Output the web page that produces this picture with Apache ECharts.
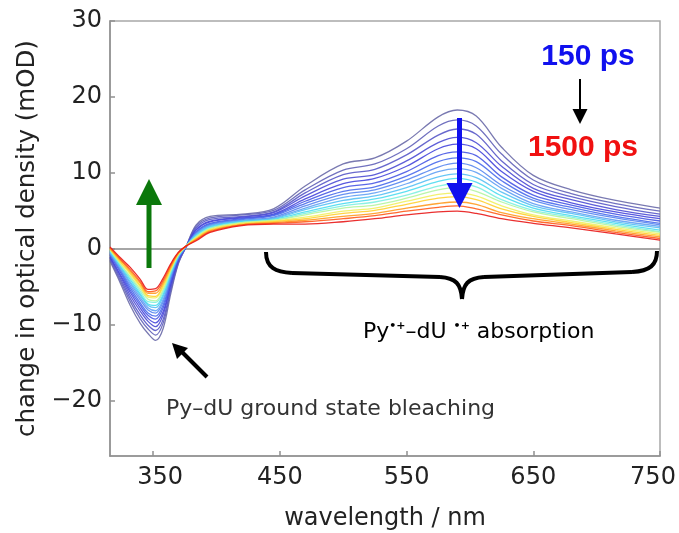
<!DOCTYPE html>
<html>
<head>
<meta charset="utf-8">
<script src="https://cdn.jsdelivr.net/npm/echarts@6/dist/echarts.min.js"></script>
<style>
html,body{margin:0;padding:0;background:#fff;}
#chart{width:679px;height:533px;}
</style>
</head>
<body>
<div id="chart"></div>
<script>
// wavelengths (nm)
const wavelengths = [316, 324, 332, 340, 346, 352, 358, 364, 370, 376, 384, 395, 420, 445, 470, 500, 525, 550, 575, 590, 605, 625, 650, 680, 715, 750];
// transient spectra, from 150 ps (first) to 1500 ps (last), mOD
const spectra = [
  [-1.6, -4.4, -7.4, -9.8, -11.1, -12.0, -10.4, -5.8, -1.9, 0.3, 3.2, 4.3, 4.6, 5.3, 8.3, 11.2, 12.0, 14.2, 17.4, 18.3, 17.5, 13.4, 9.7, 7.8, 6.4, 5.4],
  [-1.4, -4.1, -6.9, -9.2, -10.5, -11.3, -9.7, -5.4, -1.8, 0.3, 3.0, 4.1, 4.5, 5.1, 7.8, 10.4, 11.2, 13.2, 16.2, 17.0, 16.2, 12.5, 9.1, 7.3, 6.0, 5.0],
  [-1.2, -3.8, -6.5, -8.7, -10.0, -10.7, -9.2, -5.1, -1.6, 0.3, 2.8, 3.9, 4.3, 4.9, 7.4, 9.8, 10.5, 12.4, 15.0, 15.8, 15.1, 11.6, 8.5, 6.9, 5.6, 4.6],
  [-1.1, -3.5, -6.1, -8.2, -9.5, -10.2, -8.6, -4.7, -1.5, 0.3, 2.6, 3.7, 4.2, 4.8, 7.0, 9.2, 9.8, 11.6, 14.0, 14.7, 14.0, 10.9, 8.0, 6.5, 5.2, 4.3],
  [-1.0, -3.3, -5.7, -7.8, -9.1, -9.7, -8.2, -4.5, -1.4, 0.3, 2.5, 3.6, 4.1, 4.6, 6.6, 8.6, 9.3, 10.9, 13.2, 13.8, 13.2, 10.2, 7.6, 6.1, 4.9, 4.0],
  [-0.8, -3.0, -5.4, -7.4, -8.7, -9.2, -7.7, -4.2, -1.3, 0.3, 2.3, 3.4, 4.0, 4.5, 6.3, 8.1, 8.7, 10.2, 12.3, 12.8, 12.3, 9.5, 7.1, 5.8, 4.6, 3.7],
  [-0.7, -2.8, -5.1, -7.1, -8.4, -8.8, -7.3, -4.0, -1.2, 0.3, 2.2, 3.3, 3.9, 4.4, 6.0, 7.6, 8.2, 9.6, 11.5, 12.0, 11.5, 9.0, 6.7, 5.5, 4.3, 3.4],
  [-0.6, -2.7, -4.8, -6.7, -8.0, -8.4, -6.9, -3.7, -1.1, 0.3, 2.1, 3.2, 3.8, 4.2, 5.7, 7.2, 7.8, 9.1, 10.8, 11.3, 10.7, 8.4, 6.4, 5.2, 4.1, 3.2],
  [-0.5, -2.5, -4.5, -6.4, -7.7, -8.1, -6.6, -3.5, -1.0, 0.3, 2.0, 3.1, 3.7, 4.1, 5.4, 6.8, 7.4, 8.6, 10.2, 10.6, 10.1, 8.0, 6.0, 4.9, 3.8, 3.0],
  [-0.4, -2.3, -4.3, -6.1, -7.4, -7.7, -6.2, -3.3, -1.0, 0.4, 1.9, 3.0, 3.7, 4.0, 5.2, 6.4, 7.0, 8.1, 9.5, 9.9, 9.4, 7.5, 5.7, 4.7, 3.6, 2.8],
  [-0.3, -2.2, -4.0, -5.9, -7.2, -7.4, -5.9, -3.2, -0.9, 0.4, 1.8, 2.9, 3.6, 3.9, 4.9, 6.0, 6.6, 7.6, 8.9, 9.3, 8.8, 7.0, 5.4, 4.4, 3.4, 2.5],
  [-0.2, -2.0, -3.8, -5.6, -6.9, -7.0, -5.6, -3.0, -0.8, 0.4, 1.7, 2.8, 3.5, 3.8, 4.7, 5.7, 6.2, 7.1, 8.3, 8.6, 8.2, 6.5, 5.1, 4.2, 3.2, 2.3],
  [-0.1, -1.9, -3.6, -5.3, -6.6, -6.8, -5.3, -2.8, -0.7, 0.4, 1.6, 2.7, 3.5, 3.8, 4.5, 5.4, 5.8, 6.7, 7.8, 8.1, 7.6, 6.2, 4.9, 4.0, 3.0, 2.2],
  [0.0, -1.7, -3.3, -5.0, -6.3, -6.4, -5.0, -2.6, -0.7, 0.4, 1.5, 2.6, 3.4, 3.7, 4.2, 5.0, 5.4, 6.3, 7.2, 7.4, 7.0, 5.7, 4.5, 3.7, 2.8, 2.0],
  [0.0, -1.6, -3.1, -4.8, -6.1, -6.2, -4.7, -2.5, -0.6, 0.4, 1.4, 2.5, 3.3, 3.6, 4.0, 4.7, 5.1, 5.9, 6.7, 6.9, 6.5, 5.3, 4.3, 3.5, 2.6, 1.8],
  [0.1, -1.4, -2.9, -4.5, -5.8, -5.8, -4.4, -2.3, -0.5, 0.4, 1.3, 2.4, 3.2, 3.5, 3.8, 4.3, 4.7, 5.4, 6.0, 6.2, 5.9, 4.8, 4.0, 3.3, 2.4, 1.6],
  [0.2, -1.3, -2.7, -4.3, -5.6, -5.5, -4.1, -2.1, -0.5, 0.4, 1.2, 2.3, 3.2, 3.4, 3.6, 4.0, 4.4, 5.0, 5.5, 5.7, 5.3, 4.5, 3.7, 3.1, 2.2, 1.4],
  [0.3, -1.1, -2.4, -4.0, -5.3, -5.2, -3.8, -1.9, -0.4, 0.4, 1.1, 2.2, 3.1, 3.3, 3.3, 3.6, 4.0, 4.5, 4.9, 5.0, 4.7, 4.0, 3.4, 2.8, 2.0, 1.2]
];
const seriesColors = ['#6a6aa8', '#6262b8', '#5858c8', '#4c4cd4', '#4646dc', '#4858e4', '#4a6cec', '#5886f0', '#62a0f4', '#58c0f4', '#4cdcf0', '#7ef0e0', '#b4f4a0', '#f0f060', '#ffd030', '#ff9a20', '#ff5a18', '#e81818'];
const xTicks = [350, 450, 550, 650, 750];
const yTicks = [-20, -10, 0, 10, 20, 30];

const chart = echarts.init(document.getElementById('chart'), null, {renderer: 'canvas'});
const FONT = 'DejaVu Sans, sans-serif';
const BFONT = 'Liberation Sans, Arial, sans-serif';

const series = spectra.map((vals, i) => ({
  type: 'line',
  data: wavelengths.map((w, j) => [w, vals[j]]),
  showSymbol: false,
  smooth: 0.35,
  lineStyle: {color: seriesColors[i], width: 1.3, opacity: 0.9},
  silent: true,
  z: 2
}));
series[0].markLine = {
  silent: true, symbol: 'none', label: {show: false},
  lineStyle: {color: '#888', width: 1.5, type: 'solid'},
  data: [{yAxis: 0}], z: 1
};

function arrow(x, yTail, yTip, headY, halfW, shaftW, color) {
  return [
    {type: 'line', shape: {x1: x, y1: yTail, x2: x, y2: headY}, style: {stroke: color, lineWidth: shaftW}, z: 100},
    {type: 'polygon', shape: {points: [[x - halfW, headY], [x + halfW, headY], [x, yTip]]}, style: {fill: color}, z: 100}
  ];
}

const graphics = [].concat(
  arrow(149, 268, 179, 205, 13, 5, '#0b780b'),
  arrow(459.5, 118, 208, 183, 13, 5, '#1010ee'),
  arrow(580, 79, 124, 109, 7.5, 2, '#000'),
  [
    {type: 'line', shape: {x1: 207, y1: 377, x2: 181, y2: 351}, style: {stroke: '#000', lineWidth: 4}, z: 100},
    {type: 'polygon', shape: {points: [[172, 343], [188, 348], [177, 359]]}, style: {fill: '#000'}, z: 100},
    // brace
    {type: 'bezierCurve', shape: {x1: 266, y1: 252, cpx1: 266, cpy1: 268, cpx2: 276, cpy2: 272, x2: 292, y2: 273}, style: {stroke: '#000', lineWidth: 4, fill: null}, z: 100},
    {type: 'line', shape: {x1: 292, y1: 273, x2: 440, y2: 277}, style: {stroke: '#000', lineWidth: 4}, z: 100},
    {type: 'bezierCurve', shape: {x1: 440, y1: 277, cpx1: 456, cpy1: 278, cpx2: 461, cpy2: 284, x2: 462, y2: 299}, style: {stroke: '#000', lineWidth: 4, fill: null}, z: 100},
    {type: 'bezierCurve', shape: {x1: 462, y1: 299, cpx1: 463, cpy1: 284, cpx2: 468, cpy2: 278, x2: 484, y2: 277}, style: {stroke: '#000', lineWidth: 4, fill: null}, z: 100},
    {type: 'line', shape: {x1: 484, y1: 277, x2: 632, y2: 272}, style: {stroke: '#000', lineWidth: 4}, z: 100},
    {type: 'bezierCurve', shape: {x1: 632, y1: 272, cpx1: 650, cpy1: 271, cpx2: 657, cpy2: 265, x2: 657, y2: 251}, style: {stroke: '#000', lineWidth: 4, fill: null}, z: 100},
    {type: 'text', x: 588, y: 57, style: {text: '150 ps', font: 'bold 30px ' + BFONT, fill: '#1010ee', align: 'center', verticalAlign: 'middle'}, z: 100},
    {type: 'text', x: 583, y: 148, style: {text: '1500 ps', font: 'bold 30px ' + BFONT, fill: '#f01010', align: 'center', verticalAlign: 'middle'}, z: 100},
    {type: 'text', x: 166, y: 409, style: {text: 'Py–dU ground state bleaching', font: 'normal 22px ' + FONT, fill: '#333', align: 'left', verticalAlign: 'middle'}, z: 100},
    {type: 'text', x: 363, y: 332, style: {
      text: '{a|Py}{s|•+}{a|–dU }{s|•+}{a| absorption}',
      align: 'left', verticalAlign: 'middle',
      rich: {
        a: {fontFamily: FONT, fontWeight: 'normal', fontSize: 22, color: '#333'},
        s: {fontFamily: FONT, fontSize: 11, fontWeight: 'bold', color: '#333', verticalAlign: 'top', padding: [0, 0, 10, 0]}
      }
    }, z: 100}
  ]
);

const labelRich = {
  c: {fontFamily: FONT, fontSize: 24, color: '#222'},
  l: {fontFamily: FONT, fontSize: 24, color: '#222', padding: [0, 0, 0, 14]},
  r: {fontFamily: FONT, fontSize: 24, color: '#222', padding: [0, 14, 0, 0]}
};

const option = {
  animation: false,
  backgroundColor: '#fff',
  grid: {left: 110, right: 19, top: 21, bottom: 77, show: true, borderColor: '#a8a8a8', borderWidth: 1.5, backgroundColor: 'transparent', containLabel: false, outerBoundsMode: 'none'},
  xAxis: {
    type: 'value', min: 316, max: 750,
    name: 'wavelength / nm', nameLocation: 'middle', nameGap: 51,
    nameTextStyle: {fontFamily: FONT, fontSize: 24, color: '#222'},
    axisLine: {show: true, onZero: false, lineStyle: {color: '#909090', width: 1.5}},
    axisTick: {show: true, inside: true, length: 5, lineStyle: {color: '#909090', width: 1.5}, customValues: xTicks},
    axisLabel: {customValues: xTicks, fontFamily: FONT, fontSize: 24, color: '#222', margin: 10, rich: labelRich,
      formatter: v => (v === xTicks[0] ? '{l|' + v + '}' : v === xTicks[xTicks.length - 1] ? '{r|' + v + '}' : '{c|' + v + '}')},
    splitLine: {show: false}
  },
  yAxis: {
    type: 'value', min: -27.2, max: 30,
    name: 'change in optical density (mOD)', nameLocation: 'middle', nameGap: 66,
    nameTextStyle: {fontFamily: FONT, fontSize: 24.5, color: '#222'},
    axisLine: {show: true, onZero: false, lineStyle: {color: '#909090', width: 1.5}},
    axisTick: {show: true, inside: true, length: 5, lineStyle: {color: '#909090', width: 1.5}, customValues: yTicks},
    axisLabel: {customValues: yTicks, fontFamily: FONT, fontSize: 24, color: '#222', margin: 8,
      formatter: v => (v < 0 ? '\u2212' + Math.abs(v) : String(v))},
    splitLine: {show: false}
  },
  series: series,
  graphic: {elements: graphics}
};
chart.setOption(option);
</script>
</body>
</html>
